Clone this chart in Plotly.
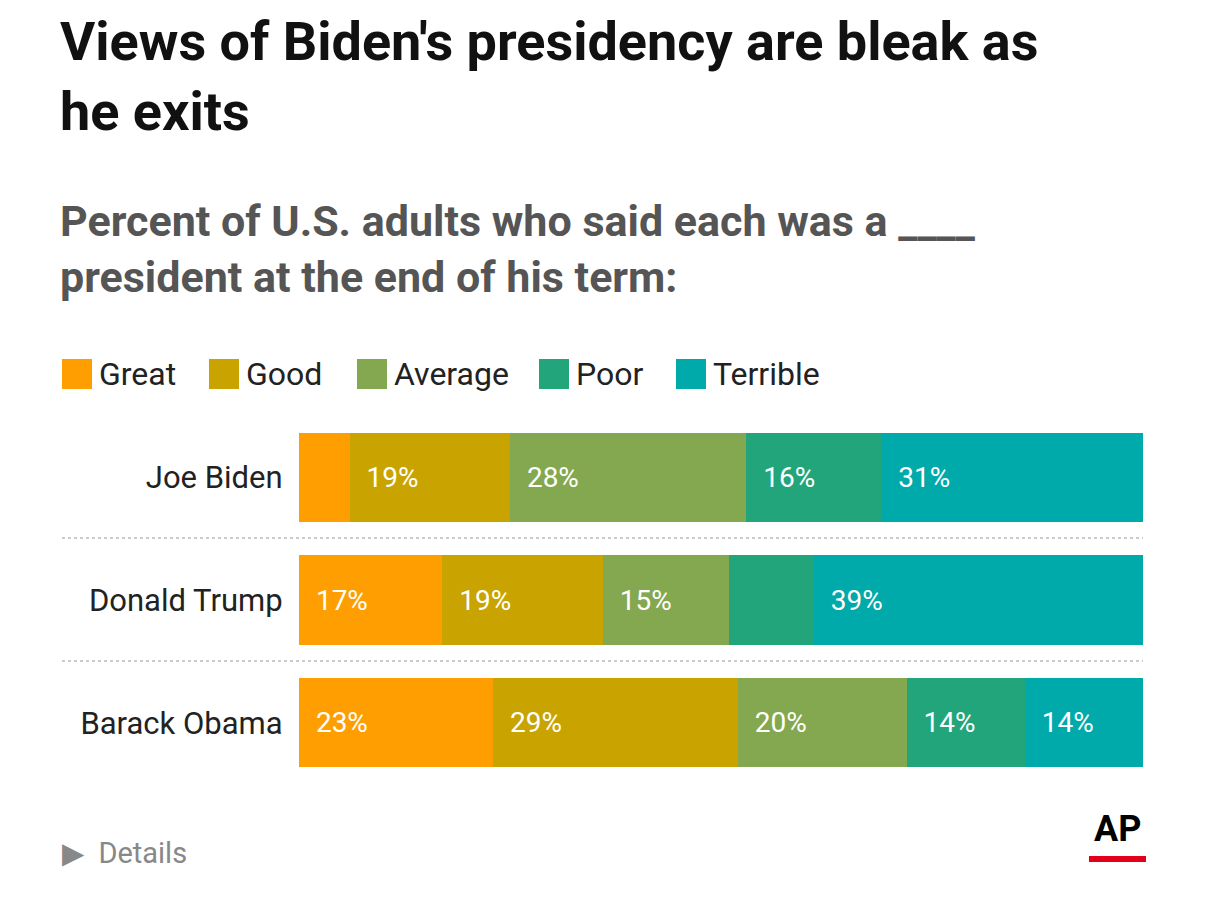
import plotly.graph_objects as go

presidents = ["Joe Biden", "Donald Trump", "Barack Obama"]
ratings = ["Great", "Good", "Average", "Poor", "Terrible"]
colors = ["#FF9E00", "#C9A400", "#84A84F", "#22A57A", "#00AAAA"]
values = {
    "Great": [6, 17, 23],
    "Good": [19, 19, 29],
    "Average": [28, 15, 20],
    "Poor": [16, 10, 14],
    "Terrible": [31, 39, 14],
}
min_label = 12  # narrow segments have no label in the original

W, H = 1206, 903
OFF = 8  # page offset seen in the render
ML, MR, MT, MB = 299 - OFF, 63 + OFF, 416 - OFF, 119 + OFF
PW, PH = W - ML - MR, H - MT - MB


def px(x):
    return (x - OFF - ML) / PW


def py(y):
    return (H - MB - (y - OFF)) / PH


fig = go.Figure()
for r, c in zip(ratings, colors):
    vals = values[r]
    fig.add_trace(go.Bar(
        y=presidents, x=vals, orientation="h", name=r,
        marker=dict(color=c, line=dict(width=0)),
        text=[f"  {v}%" if v >= min_label else "" for v in vals],
        textposition="inside", insidetextanchor="start",
        textfont=dict(color="white", size=28, family="Roboto"),
        hoverinfo="skip", showlegend=False,
    ))

shapes = []
annotations = []
# separators between rows
for yp in [538, 661]:
    shapes.append(dict(type="line", xref="paper", yref="paper",
                       x0=px(62), x1=px(1143), y0=py(yp), y1=py(yp),
                       line=dict(color="#bbbbbb", width=1.5, dash="dot")))

# legend
legend_x = [62, 209, 357, 539, 676]
for r, c, lx in zip(ratings, colors, legend_x):
    shapes.append(dict(type="rect", xref="paper", yref="paper",
                       x0=px(lx), x1=px(lx + 30), y0=py(389), y1=py(359),
                       fillcolor=c, line=dict(width=0)))
    annotations.append(dict(text=r, xref="paper", yref="paper",
                            x=px(lx + 35), y=py(374), xanchor="left", yanchor="middle",
                            showarrow=False, font=dict(size=32, color="#222", family="Roboto")))

# titles
annotations.append(dict(text="<b>Views of Biden's presidency are bleak as<br>he exits</b>",
                        xref="paper", yref="paper", x=px(58), y=py(8),
                        xanchor="left", yanchor="top", align="left", showarrow=False,
                        font=dict(size=54, color="#111", family="Roboto")))
annotations.append(dict(text="<b>Percent of U.S. adults who said each was a ____<br>president at the end of his term:</b>",
                        xref="paper", yref="paper", x=px(58), y=py(194),
                        xanchor="left", yanchor="top", align="left", showarrow=False,
                        font=dict(size=43, color="#555", family="Roboto")))
annotations.append(dict(text="▶  Details", xref="paper", yref="paper",
                        x=px(60), y=py(853), xanchor="left", yanchor="middle",
                        showarrow=False, font=dict(size=29, color="#888", family="Roboto")))
annotations.append(dict(text="<b>AP</b>", xref="paper", yref="paper",
                        x=px(1117), y=py(829), xanchor="center", yanchor="middle",
                        showarrow=False, font=dict(size=36, color="#000", family="Roboto")))
shapes.append(dict(type="rect", xref="paper", yref="paper",
                   x0=px(1089), x1=px(1146), y0=py(862), y1=py(856),
                   fillcolor="#E4001B", line=dict(width=0)))

fig.update_layout(
    width=W, height=H, barmode="stack", bargap=0.27,
    margin=dict(l=ML, r=MR, t=MT, b=MB),
    paper_bgcolor="white", plot_bgcolor="white",
    uniformtext=dict(mode="show", minsize=28),
    xaxis=dict(range=[0, 100], visible=False, fixedrange=True),
    yaxis=dict(autorange="reversed", showgrid=False, zeroline=False, ticks="",
               ticksuffix="  ", tickfont=dict(size=31, color="#222", family="Roboto")),
    shapes=shapes, annotations=annotations,
)

fig.write_html("out.html")
